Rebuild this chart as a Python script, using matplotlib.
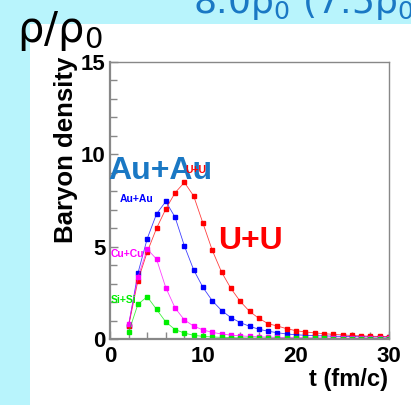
import matplotlib.pyplot as plt
from matplotlib.patches import Rectangle
from matplotlib.ticker import MultipleLocator

# Time grid (fm/c) and baryon density for each colliding system
t = list(range(2, 31))
uu = [0.70, 3.16, 4.71, 5.99, 7.04, 7.92, 8.48, 7.74, 6.26, 4.80, 3.62, 2.74, 2.04,
      1.50, 1.12, 0.83, 0.70, 0.56, 0.45, 0.38, 0.33, 0.29, 0.25, 0.22, 0.19, 0.17,
      0.15, 0.14, 0.13]
auau = [0.72, 3.56, 5.43, 6.77, 7.45, 6.59, 5.04, 3.74, 2.79, 2.07, 1.54, 1.16, 0.89,
        0.69, 0.53, 0.42, 0.34, 0.27, 0.23, 0.20, 0.18, 0.17, 0.15, 0.14, 0.13, 0.12,
        0.11, 0.11, 0.10]
cucu = [0.81, 3.34, 4.87, 4.33, 2.78, 1.68, 1.03, 0.70, 0.49, 0.36, 0.27, 0.21, 0.17,
        0.14, 0.12, 0.10, 0.09, 0.08, 0.07, 0.07, 0.06, 0.06, 0.05, 0.05, 0.05, 0.05,
        0.04, 0.04, 0.04]
sisi = [0.36, 1.88, 2.29, 1.61, 0.92, 0.51, 0.32, 0.20, 0.14, 0.11, 0.09, 0.07, 0.06,
        0.05, 0.05, 0.04, 0.04, 0.03, 0.03, 0.03, 0.03, 0.03, 0.02, 0.02, 0.02, 0.02,
        0.02, 0.02, 0.02]

bold = {'family': 'Liberation Sans', 'weight': 'bold'}
slide_blue = '#1a78c4'

fig = plt.figure(figsize=(4.11, 4.05), dpi=100)
fig.patch.set_facecolor('#b8f4fc')
fig.patches.append(Rectangle((30/411, 0), 1, 1 - 24/405, transform=fig.transFigure,
                             facecolor='white', edgecolor='none', zorder=-5))

# slide texts around the plot
fig.text(17/411, 1 - 42/405, r'$\mathregular{ρ/ρ_0}$', fontsize=30, color='black',
         ha='left', va='baseline')
fig.text(193/411, 1 - 13/405, r'$\mathregular{8.0ρ_0\ (7.5ρ_0)}$', fontsize=26,
         color=slide_blue, ha='left', va='baseline')

ax = fig.add_axes([110/411, 66/405, 279/411, 277/405])
ax.set_facecolor('white')

for y, c in [(auau, '#0000ff'), (uu, '#ff0000'), (cucu, '#ff00ff'), (sisi, '#00ee00')]:
    ax.plot(t, y, color=c, lw=0.6, alpha=0.75)
    ax.plot(t, y, ls='none', marker='s', ms=3.4, color=c, mec=c)

ax.set_xlim(0, 30)
ax.set_ylim(0, 15)
ax.xaxis.set_major_locator(MultipleLocator(10))
ax.xaxis.set_minor_locator(MultipleLocator(2))
ax.yaxis.set_major_locator(MultipleLocator(5))
ax.yaxis.set_minor_locator(MultipleLocator(1))
ax.tick_params(which='both', direction='in', color='#888888', top=False, right=False)
ax.tick_params(which='major', length=6, width=1)
ax.tick_params(which='minor', length=5, width=1)
ax.tick_params(axis='x', pad=5)
ax.tick_params(axis='y', pad=3)
for lab in ax.get_xticklabels() + ax.get_yticklabels():
    lab.set_fontproperties(bold)
    lab.set_fontsize(16)
for s in ax.spines.values():
    s.set_color('#888888')
    s.set_linewidth(1)
ax.spines['left'].set_linewidth(1.6)
ax.spines['bottom'].set_linewidth(1.6)

# system labels
ax.text(-0.2, 8.66, 'Au+Au', color=slide_blue, fontsize=23, fontdict=bold, va='baseline')
ax.text(11.6, 4.87, 'U+U', color='#ff0000', fontsize=23, fontdict=bold, va='baseline')
ax.text(8.06, 8.99, 'U+U', color='#ff0000', fontsize=7.5, fontdict=bold, va='baseline')
ax.text(1.08, 7.42, 'Au+Au', color='#0000ff', fontsize=7.5, fontdict=bold, va='baseline')
ax.text(0.05, 4.44, 'Cu+Cu', color='#ff00ff', fontsize=7.5, fontdict=bold, va='baseline')
ax.text(0.05, 1.95, 'Si+Si', color='#00ee00', fontsize=7.5, fontdict=bold, va='baseline')

fig.text(66/411, 1 - 150/405, 'Baryon density', rotation=90, fontsize=18.5, fontdict=bold,
         ha='center', va='center')
fig.text(388/411, 1 - 368/405, 't (fm/c)', fontsize=17, fontdict=bold, ha='right', va='top')

fig.savefig('out.png', dpi=100, facecolor=fig.get_facecolor())
